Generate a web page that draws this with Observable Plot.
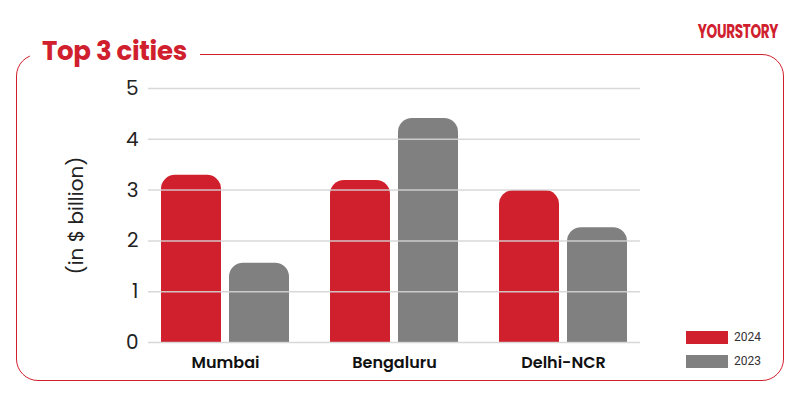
<!DOCTYPE html>
<html><head><meta charset="utf-8">
<script src="https://cdn.jsdelivr.net/npm/d3@7"></script>
<script src="https://cdn.jsdelivr.net/npm/@observablehq/plot@0.6"></script>
<style>
body{margin:0;background:#fff;}
#wrap{position:relative;width:800px;height:400px;overflow:hidden;font-family:"Open Sans",sans-serif;background:#fff;}
#box{position:absolute;left:16px;top:54px;width:768px;height:327px;border:1.6px solid #D0202E;border-radius:22px;box-sizing:border-box;}
#chart{position:absolute;left:0;top:0;}
#chart svg{background:transparent !important;}
#title{position:absolute;left:30px;top:32px;padding:0 13px 0 12px;background:#fff;color:#D0202E;font-weight:700;font-size:26px;font-family:"Poppins","Open Sans",sans-serif;line-height:38px;letter-spacing:-0.3px;}
#logo{position:absolute;right:22px;top:16px;color:#D0202E;font-family:"Poppins",sans-serif;font-weight:700;font-size:20px;letter-spacing:-0.5px;transform:scaleX(0.68);transform-origin:right center;}
.leg{position:absolute;left:686px;display:flex;align-items:center;font-size:12px;color:#333;font-family:"Roboto","Open Sans",sans-serif;}
.sw{width:42px;height:13px;margin-right:6px;}
</style>
</head><body>
<div id="wrap">
  <div id="box"></div>
  <div id="chart"></div>
  <div id="title">Top 3 cities</div>
  <div id="logo">YOURSTORY</div>
  <div id="legend"></div>
</div>
<script>
const cities = ["Mumbai", "Bengaluru", "Delhi-NCR"];
const values2024 = [3.29, 3.19, 2.99];
const values2023 = [1.56, 4.41, 2.26];
const years = ["2024", "2023"];
const colors = ["#D0202E", "#808080"];
const yTicks = [0, 1, 2, 3, 4, 5];
const yLabel = "(in $ billion)";

const d24 = cities.map((c, i) => ({city: c, value: values2024[i]}));
const d23 = cities.map((c, i) => ({city: c, value: values2023[i]}));

const chart = Plot.plot({
  width: 800,
  height: 400,
  marginLeft: 148,
  marginRight: 160,
  marginTop: 88,
  marginBottom: 58,
  style: {background: "transparent"},
  x: {domain: cities, paddingInner: 0.243, paddingOuter: 0.077, label: null},
  y: {domain: [0, 5], ticks: yTicks, label: null},
  marks: [
    Plot.barY(d24, {x: "city", y: "value", fill: colors[0], insetRight: 68, ry1: 14}),
    Plot.barY(d23, {x: "city", y: "value", fill: colors[1], insetLeft: 68, ry1: 14}),
    Plot.ruleY(yTicks, {stroke: "#d4d4d4", strokeWidth: 1.5, strokeOpacity: 0.9}),
    Plot.axisY({ticks: yTicks, tickFormat: "d", tickSize: 0, tickPadding: 10, fontSize: 20, fill: "#222",
      fontFamily: "Poppins, 'Open Sans', sans-serif", label: yLabel, labelAnchor: "center",
      labelOffset: 80, labelArrow: "none"}),
    Plot.axisX({tickSize: 0, tickPadding: 14, fontSize: 16, fontWeight: 600, fill: "#111",
      fontFamily: "Poppins, 'Open Sans', sans-serif", label: null})
  ]
});
document.getElementById("chart").appendChild(chart);

const leg = document.getElementById("legend");
years.forEach((y, i) => {
  const row = document.createElement("div");
  row.className = "leg";
  row.style.top = (330 + i * 24) + "px";
  row.innerHTML = `<div class="sw" style="background:${colors[i]}"></div><span>${y}</span>`;
  leg.appendChild(row);
});
</script>
</body></html>
